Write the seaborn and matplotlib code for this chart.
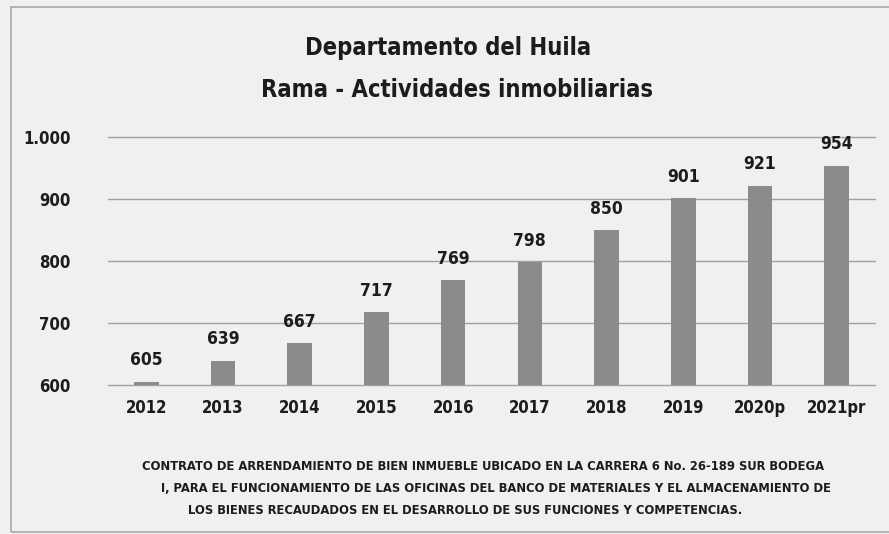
import matplotlib
matplotlib.use("Agg")
import matplotlib.pyplot as plt
import seaborn as sns
import pandas as pd

# Values
years = ["2012", "2013", "2014", "2015", "2016", "2017", "2018", "2019", "2020p", "2021pr"]
values = [605, 639, 667, 717, 769, 798, 850, 901, 921, 954]
y_ticks = [600, 700, 800, 900, 1000]
y_tick_labels = ["600", "700", "800", "900", "1.000"]

title_lines = ["Departamento del Huila", "Rama - Actividades inmobiliarias"]
footer_lines = [
    "CONTRATO DE ARRENDAMIENTO DE BIEN INMUEBLE UBICADO EN LA CARRERA 6 No. 26-189 SUR BODEGA",
    "I, PARA EL FUNCIONAMIENTO DE LAS OFICINAS DEL BANCO DE MATERIALES Y EL ALMACENAMIENTO DE",
    "LOS BIENES RECAUDADOS EN EL DESARROLLO DE SUS FUNCIONES Y COMPETENCIAS.",
]

sns.set_style("white")
plt.rcParams["font.family"] = ["DejaVu Sans"]
plt.rcParams["font.stretch"] = "condensed"

bg = "#f0f0f0"
bar_color = "#8b8b8b"
ink = "#1c1c1c"

df = pd.DataFrame({"year": years, "value": values})

fig = plt.figure(figsize=(8.89, 5.34), dpi=100, facecolor=bg)
ax = fig.add_axes([108 / 889, 1 - 385 / 534, (875 - 108) / 889, (385 - 137) / 534])
ax.set_facecolor(bg)

sns.barplot(data=df, x="year", y="value", color=bar_color, width=0.32,
            saturation=1, linewidth=0, ax=ax, zorder=2)

ax.set_ylim(600, 1000)
ax.set_yticks(y_ticks)
ax.set_yticklabels(y_tick_labels)
ax.yaxis.grid(True, color="#a0a0a0", linewidth=1.0, zorder=0)
for gl in ax.yaxis.get_gridlines():
    gl.set_clip_on(False)
ax.set_axisbelow(True)
for s in ax.spines.values():
    s.set_visible(False)
ax.tick_params(axis="y", length=0, pad=27, labelsize=12, labelcolor=ink)
ax.tick_params(axis="x", length=0, pad=10, labelsize=12, labelcolor=ink)
for lbl in ax.get_xticklabels() + ax.get_yticklabels():
    lbl.set_fontweight("bold")
ax.set_xlabel("")
ax.set_ylabel("")

labels = ax.bar_label(ax.containers[0], labels=[str(v) for v in values],
                      padding=9, fontsize=12.5, fontweight="bold", color=ink)
for t in labels:
    t.set_clip_on(False)

# title lines, centred where they sit in the scan
fig.text(448 / 889, 1 - 48 / 534, title_lines[0], ha="center", va="center",
         fontsize=17, fontweight="bold", color=ink)
fig.text(457 / 889, 1 - 90 / 534, title_lines[1], ha="center", va="center",
         fontsize=17, fontweight="bold", color=ink)

footer_x = [483, 496, 465]
for i, line in enumerate(footer_lines):
    fig.text(footer_x[i] / 889, 1 - (467 + 22 * i) / 534, line, ha="center", va="center",
             fontsize=9.3, fontweight="bold", color=ink)

# thin frame round the chart (right edge runs off the scan)
frame = plt.Rectangle((11 / 889, 2 / 534), 900 / 889, 525 / 534, transform=fig.transFigure,
                      fill=False, edgecolor="#a8a8a8", linewidth=1.2)
fig.patches.append(frame)

fig.savefig("out.png", dpi=100, facecolor=bg)
